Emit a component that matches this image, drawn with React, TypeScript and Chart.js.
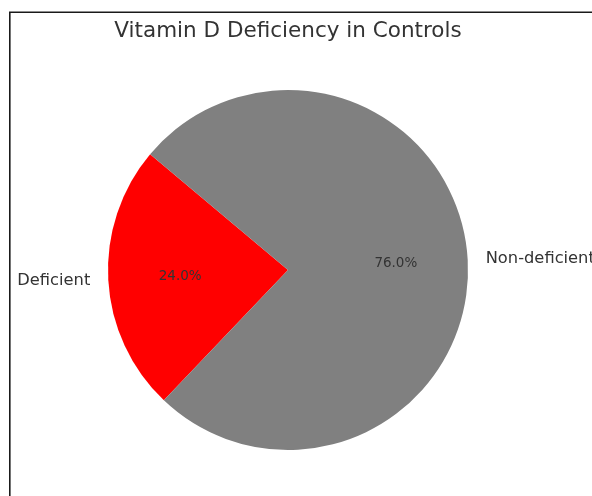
import React, { useEffect, useRef } from "react";
import { Chart, registerables } from "chart.js";

Chart.register(...registerables);

const title = "Vitamin D Deficiency in Controls";
const categories = ["Deficient", "Non-deficient"];
const values = [24.0, 76.0];
const colors = ["#ff0000", "#808080"];

const FONT = "'DejaVu Sans', sans-serif";

const labelPlugin = {
  id: "pieLabels",
  afterDraw(chart: any) {
    const ctx = chart.ctx as CanvasRenderingContext2D;
    const meta = chart.getDatasetMeta(0);
    const total = values.reduce((a, b) => a + b, 0);
    ctx.save();
    // frame
    ctx.strokeStyle = "#1a1a1a";
    ctx.lineWidth = 1.6;
    ctx.beginPath();
    ctx.moveTo(9.8, 600);
    ctx.lineTo(9.8, 12.3);
    ctx.lineTo(700, 12.3);
    ctx.stroke();
    // title
    ctx.fillStyle = "#333";
    ctx.font = `21.5px ${FONT}`;
    ctx.textAlign = "center";
    ctx.textBaseline = "middle";
    ctx.fillText(title, 288, 31);
    meta.data.forEach((arc: any, i: number) => {
      const p = arc.getProps(["x", "y", "startAngle", "endAngle", "outerRadius"], true);
      const mid = (p.startAngle + p.endAngle) / 2;
      const c = Math.cos(mid);
      const s = Math.sin(mid);
      const r = p.outerRadius;
      ctx.font = `16.3px ${FONT}`;
      ctx.fillStyle = "#333";
      ctx.textAlign = c < 0 ? "right" : "left";
      ctx.textBaseline = "middle";
      ctx.fillText(categories[i], p.x + c * r * 1.1, p.y + s * r * 1.1);
      ctx.font = `13.5px ${FONT}`;
      ctx.textAlign = "center";
      ctx.fillText(((values[i] / total) * 100).toFixed(1) + "%", p.x + c * r * 0.6, p.y + s * r * 0.6);
    });
    ctx.restore();
  },
};

export default function App() {
  const ref = useRef<HTMLCanvasElement>(null);
  useEffect(() => {
    const total = values.reduce((a, b) => a + b, 0);
    const startMath = 140 + (values[0] / total) * 360; // matplotlib ccw
    const rotation = 90 - startMath; // chart.js clockwise from top
    const chart = new Chart(ref.current!, {
      type: "pie",
      data: {
        labels: categories,
        datasets: [
          {
            data: [values[0], values[1]],
            backgroundColor: colors,
            borderWidth: 0,
          },
        ],
      },
      options: {
        responsive: false,
        animation: false,
        devicePixelRatio: 1,
        rotation: rotation,
        layout: { padding: { left: 108, right: 124, top: 90, bottom: 46 } },
        plugins: {
          legend: { display: false },
          tooltip: { enabled: false },
          title: { display: false },
        },
      },
      plugins: [labelPlugin],
    });
    return () => chart.destroy();
  }, []);
  return (
    <div style={{ position: "fixed", left: 0, top: 0, width: 592, height: 496, overflow: "hidden", background: "#fff" }}>
      <canvas ref={ref} width={592} height={496} style={{ display: "block" }} />
    </div>
  );
}
